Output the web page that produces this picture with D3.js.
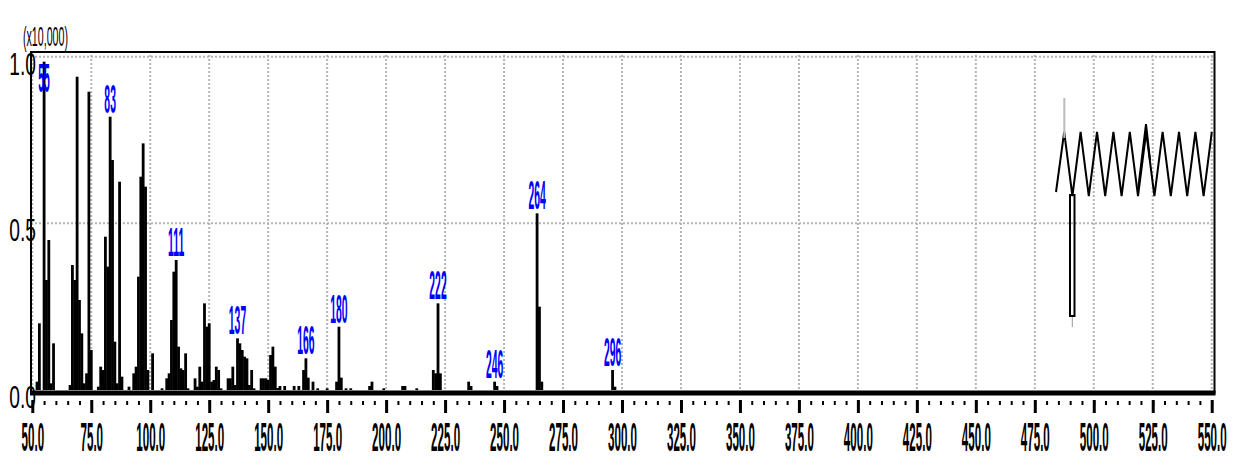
<!DOCTYPE html>
<html>
<head>
<meta charset="utf-8">
<script src="https://cdn.jsdelivr.net/npm/d3@7/dist/d3.min.js"></script>
<style>
  body { margin: 0; background: #fff; }
  svg { display: block; font-family: "Liberation Sans", Arial, sans-serif; }
</style>
</head>
<body>
<div id="chart"></div>
<script>
// m/z values and intensities (x10,000)
var mz = [52, 53, 55, 56, 57, 58, 59, 66, 67, 68, 69, 70, 71, 72, 73, 74, 75,
  78, 79, 80, 81, 82, 83, 84, 85, 86, 87, 88, 91, 93, 94, 95, 96, 97, 98, 99, 101,
  105, 107, 108, 109, 110, 111, 112, 113, 114, 115, 116, 119, 120, 121, 122, 123, 124,
  125, 126, 127, 128, 129, 130, 133, 134, 135, 136, 137, 138, 139, 140, 141, 142, 143,
  144, 147, 148, 149, 150, 151, 152, 153, 154, 155, 157, 161, 163, 165, 166, 167, 169,
  171, 175, 179, 180, 181, 183, 185, 193, 194, 199, 207, 208, 213, 220, 221, 222, 223,
  235, 236, 246, 247, 264, 265, 266, 296, 297];
var intensity = [0.025, 0.2, 0.985, 0.33, 0.45, 0.02, 0.14, 0.015, 0.375, 0.33, 0.94, 0.27, 0.17, 0.02, 0.05, 0.895, 0.12,
  0.01, 0.07, 0.06, 0.46, 0.37, 0.82, 0.69, 0.145, 0.02, 0.625, 0.04, 0.01, 0.05, 0.07, 0.34, 0.64, 0.74, 0.61, 0.06, 0.11,
  0.005, 0.035, 0.05, 0.21, 0.355, 0.39, 0.13, 0.065, 0.06, 0.11, 0.005, 0.035, 0.01, 0.07, 0.025, 0.26, 0.19,
  0.2, 0.025, 0.03, 0.07, 0.06, 0.005, 0.035, 0.035, 0.07, 0.015, 0.155, 0.14, 0.12, 0.1, 0.095, 0.015, 0.06,
  0.005, 0.035, 0.035, 0.035, 0.03, 0.105, 0.13, 0.07, 0.006, 0.012, 0.012, 0.012, 0.012, 0.06, 0.095, 0.037, 0.025,
  0.005, 0.005, 0.025, 0.19, 0.037, 0.005, 0.005, 0.012, 0.025, 0.005, 0.012, 0.012, 0.005, 0.06, 0.05, 0.26, 0.05,
  0.025, 0.012, 0.025, 0.012, 0.53, 0.25, 0.025, 0.06, 0.01];
var labelled = [55, 83, 111, 137, 166, 180, 222, 246, 264, 296];
var xTicks = d3.range(50, 551, 25);
var xMinorTicks = d3.range(50, 551, 5);
var yTicks = [0, 0.5, 1.0];
var unitLabel = "(x10,000)";

var data = mz.map((m, i) => ({ mz: m, v: intensity[i] }));

var W = 1240, H = 459;
var svg = d3.select('#chart').append('svg').attr('width', W).attr('height', H);

var xScale = d3.scaleLinear().domain([50, 550]).range([32.3, 1211.7]);
var yScale = d3.scaleLinear().domain([0, 1]).range([390, 56.7]);
var plotTop = 52, plotLeft = 31, plotRight = 1214.5, plotBottom = 393;

// grid
var grid = svg.append('g').attr('class', 'grid')
  .attr('stroke', '#b4b4b4').attr('stroke-width', 2).attr('stroke-dasharray', '2,2');
grid.selectAll('.vg').data(xTicks).enter().append('line')
  .attr('x1', d => xScale(d)).attr('x2', d => xScale(d))
  .attr('y1', plotTop + 3).attr('y2', plotBottom);
grid.selectAll('.hg').data(yTicks.slice(1)).enter().append('line')
  .attr('x1', plotLeft).attr('x2', plotRight)
  .attr('y1', d => yScale(d)).attr('y2', d => yScale(d));

// y labels (drawn under frame)
svg.append('g').selectAll('text').data(yTicks).enter().append('text')
  .attr('transform', d => `translate(36, ${yScale(d) + 18}) scale(0.6,1)`)
  .attr('text-anchor', 'end').attr('font-size', 32).attr('fill', '#000')
  .text(d => d.toFixed(1));

svg.append('text')
  .attr('transform', 'translate(23, 46) scale(0.38,1)')
  .attr('font-size', 28).text(unitLabel);

// bars
var bw = 2.8;
svg.append('g').attr('class', 'bars').selectAll('rect').data(data).enter().append('rect')
  .attr('x', d => xScale(d.mz) - bw / 2)
  .attr('y', d => yScale(d.v))
  .attr('width', bw)
  .attr('height', d => yScale(0) - yScale(d.v))
  .attr('fill', '#000');

// peak labels
var lab = data.filter(d => labelled.indexOf(d.mz) >= 0);
svg.append('g').selectAll('text').data(lab).enter().append('text')
  .attr('transform', d => `translate(${xScale(d.mz)}, ${Math.max(yScale(d.v) - 4, plotTop + 40)}) scale(0.26,1)`)
  .attr('text-anchor', 'middle').attr('font-size', 40).attr('font-weight', 'bold').attr('fill', '#0000ff')
  .text(d => d.mz);

// frame
svg.append('rect').attr('x', plotLeft).attr('y', plotTop)
  .attr('width', plotRight - plotLeft).attr('height', plotBottom - plotTop)
  .attr('fill', 'none').attr('stroke', '#000').attr('stroke-width', 2);
svg.append('line').attr('x1', plotLeft - 1).attr('x2', plotRight + 1)
  .attr('y1', plotBottom).attr('y2', plotBottom)
  .attr('stroke', '#000').attr('stroke-width', 5);

// x axis
var minorAxis = d3.axisBottom(xScale).tickValues(xMinorTicks).tickSize(4).tickFormat('');
var gMinor = svg.append('g').attr('transform', 'translate(0, 401)').call(minorAxis);
gMinor.select('.domain').remove();
gMinor.selectAll('.tick line').attr('stroke-width', 2);

var majorAxis = d3.axisBottom(xScale).tickValues(xTicks).tickSize(13).tickFormat(d3.format('.1f'));
var gMajor = svg.append('g').attr('transform', 'translate(0, 400)').call(majorAxis);
gMajor.select('.domain').remove();
gMajor.selectAll('.tick line').attr('stroke-width', 3);
gMajor.selectAll('.tick text')
  .attr('y', null).attr('dy', null)
  .attr('transform', 'translate(0, 51) scale(0.29,1)')
  .attr('font-size', 40).attr('font-weight', 'bold')
  .attr('font-family', '"Liberation Sans", Arial, sans-serif')
  .attr('fill', '#000');

// structure sketch (decoration, top right)
var zig = d3.range(20).map(i => [1056 + i * 8.2, i === 0 ? 192 : (i % 2 ? 132 : 196)]);
var deco = svg.append('g').attr('fill', 'none').attr('stroke', '#000').attr('stroke-width', 2);
deco.append('path').attr('d', d3.line()(zig));
deco.append('path').attr('d', d3.line()([[1138, 190], [1146, 124], [1150, 160]]));
deco.append('line').attr('x1', 1064.3).attr('x2', 1064.3).attr('y1', 138).attr('y2', 98)
  .attr('stroke', '#bbb');
deco.append('rect').attr('x', 1070).attr('y', 195).attr('width', 4.5).attr('height', 121)
  .attr('stroke-width', 2);
deco.append('line').attr('x1', 1072.3).attr('x2', 1072.3).attr('y1', 317).attr('y2', 327)
  .attr('stroke', '#999').attr('stroke-width', 1);
</script>
</body>
</html>
